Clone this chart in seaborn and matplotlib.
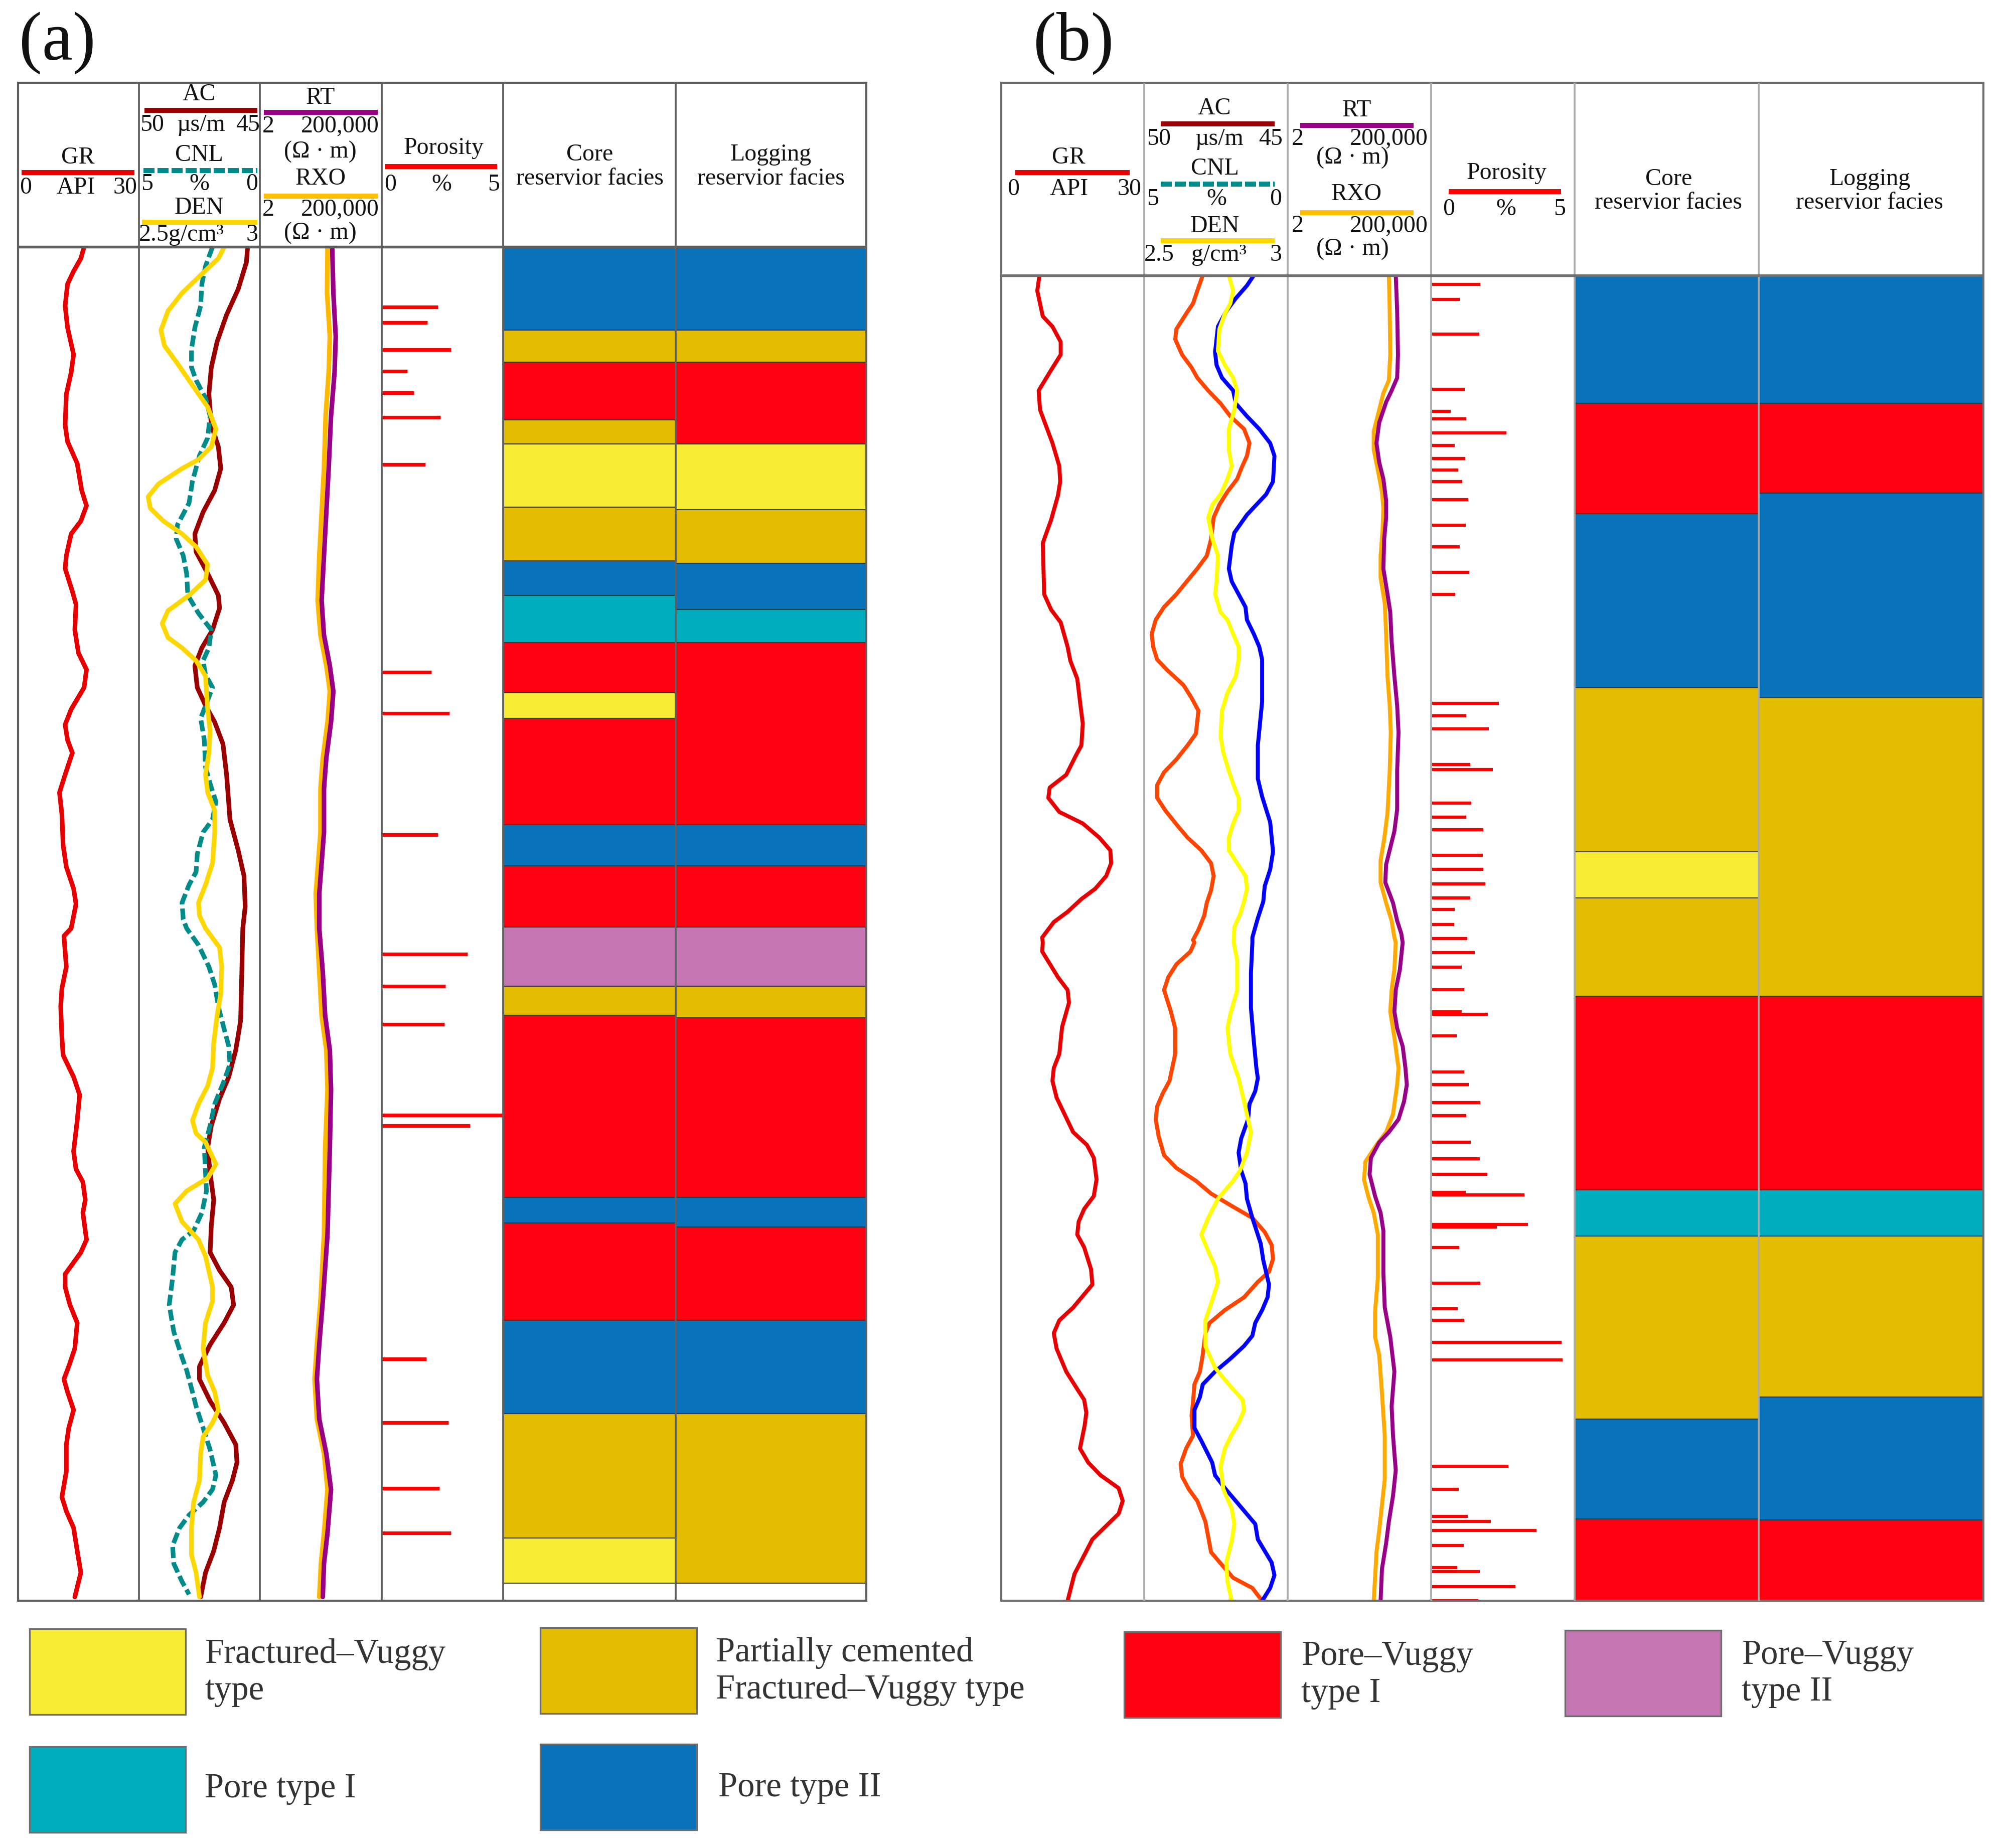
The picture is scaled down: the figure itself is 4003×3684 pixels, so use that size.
import matplotlib
matplotlib.use("Agg")
import matplotlib.pyplot as plt
from matplotlib.patches import Rectangle
import pandas as pd
import seaborn as sns

# ---------------------------------------------------------------
# Data. Depth is relative (m below the top of
# each section); curve values are in the track units of the header.
# ---------------------------------------------------------------

# ---- well (a) ----
GR_A = [(0, 16.4), (0.9, 15.6), (1.9, 13.8), (2.9, 12.3), (4.6, 11.7), (6.3, 12.3), (8.4, 13.8),
        (9.8, 13.2), (11.5, 12.0), (13.9, 11.7), (15.2, 12.3), (16.9, 14.7), (19.0, 15.8), (20.2, 17.0),
        (21.4, 15.6), (22.4, 13.2), (24.1, 12.0), (25.1, 11.7), (26.9, 13.5), (27.9, 14.4), (29.9, 14.1),
        (31.7, 15.0), (33.0, 17.0), (34.4, 16.4), (36.1, 13.2), (37.3, 11.7), (38.5, 12.3), (39.5, 13.5),
        (41.2, 11.7), (42.6, 10.3), (44.3, 10.9), (46.7, 11.2), (48.4, 12.0), (50.1, 13.8), (51.3, 14.4),
        (53.2, 13.2), (53.8, 11.4), (56.2, 12.0), (57.9, 10.9), (59.3, 10.6), (61.7, 10.9), (63.1, 11.2),
        (64.8, 13.8), (66.2, 15.3), (68.2, 14.7), (70.6, 13.8), (72.0, 14.4), (73.0, 16.1), (74.4, 16.7),
        (75.4, 16.1), (77.5, 17.0), (78.5, 15.6), (80.2, 11.7), (81.2, 11.7), (82.6, 12.9), (84.0, 14.7),
        (86.0, 14.1), (87.4, 12.6), (88.4, 11.4), (89.4, 12.3), (90.8, 13.8), (92.2, 12.6), (93.5, 12.0),
        (95.6, 12.0), (97.6, 10.9), (98.7, 12.0), (100.0, 13.8), (101.8, 14.7), (103.5, 15.6), (105.4, 14.1)]

AC_A = [(0, 45.51), (1.2, 45.56), (3.3, 45.90), (5.3, 46.38), (7.4, 46.77), (9.4, 47.01), (11.5, 47.11),
        (13.9, 47.01), (15.6, 46.72), (17.3, 46.62), (19.0, 46.87), (20.7, 47.35), (22.4, 47.69), (23.8, 47.64),
        (25.5, 47.16), (27.2, 46.72), (28.2, 46.67), (29.9, 46.96), (31.3, 47.40), (32.7, 47.69), (34.4, 47.59),
        (35.8, 47.25), (37.1, 46.87), (38.8, 46.53), (41.2, 46.38), (44.7, 46.24), (47.1, 45.90), (49.1, 45.66),
        (51.5, 45.61), (53.2, 45.71), (56.6, 45.75), (60.4, 45.80), (62.7, 46.00), (64.8, 46.29), (66.5, 46.67),
        (68.6, 47.01), (70.3, 47.16), (72.3, 47.06), (74.4, 46.91), (76.4, 47.01), (78.5, 47.06), (79.9, 46.67),
        (81.2, 46.19), (82.6, 46.09), (84.0, 46.48), (85.7, 47.06), (87.4, 47.50), (88.4, 47.50), (90.1, 47.06),
        (91.8, 46.48), (93.5, 46.00), (94.9, 45.95), (96.3, 46.14), (98.0, 46.48), (100.0, 46.67), (101.8, 46.91),
        (103.5, 47.25), (105.4, 47.45)]

CNL_A = [(0, 1.96), (1.5, 2.25), (2.9, 2.40), (4.6, 2.45), (6.3, 2.69), (8.0, 2.83), (9.4, 2.83), (10.4, 2.64),
         (11.8, 2.25), (13.2, 2.06), (14.9, 2.16), (16.3, 2.50), (18.3, 2.79), (20.0, 2.93), (21.7, 3.41),
         (22.8, 3.46), (24.1, 3.17), (25.5, 3.03), (27.2, 2.98), (28.6, 2.54), (29.9, 2.01), (31.3, 2.11),
         (32.3, 2.35), (33.4, 2.25), (34.4, 1.96), (35.4, 2.16), (36.8, 2.45), (38.5, 2.30), (40.6, 2.25),
         (41.9, 2.06), (43.3, 1.82), (44.7, 1.96), (45.7, 2.35), (47.4, 2.59), (48.8, 2.64), (49.8, 2.93),
         (51.2, 3.22), (52.5, 3.17), (53.2, 3.03), (54.5, 2.54), (56.2, 2.11), (57.6, 1.87), (59.3, 1.72),
         (60.7, 1.53), (62.4, 1.29), (63.8, 1.24), (65.1, 1.48), (66.9, 1.87), (68.6, 2.06), (70.3, 2.30),
         (72.3, 2.25), (73.7, 2.21), (75.4, 2.40), (76.8, 2.74), (77.5, 3.22), (78.5, 3.51), (80.5, 3.61),
         (82.6, 3.75), (84.7, 3.56), (86.7, 3.22), (87.7, 3.03), (89.1, 2.83), (90.5, 2.64), (92.2, 2.35),
         (93.9, 2.06), (95.9, 1.82), (97.0, 1.96), (98.0, 2.35), (99.0, 2.93), (100.0, 3.32), (101.4, 3.61),
         (102.8, 3.56), (104.2, 3.22), (105.2, 2.93)]

DEN_A = [(0, 2.852), (0.9, 2.828), (2.2, 2.755), (3.6, 2.678), (5.0, 2.620), (6.5, 2.591), (7.7, 2.605),
         (9.1, 2.659), (10.8, 2.721), (12.5, 2.784), (14.2, 2.818), (15.6, 2.799), (16.6, 2.746), (17.3, 2.678),
         (18.5, 2.581), (19.5, 2.538), (20.4, 2.547), (21.4, 2.601), (22.4, 2.678), (23.4, 2.736), (24.8, 2.784),
         (26.0, 2.775), (27.2, 2.707), (28.4, 2.620), (29.4, 2.596), (30.5, 2.620), (31.3, 2.678), (32.3, 2.736),
         (33.5, 2.775), (36.1, 2.784), (37.8, 2.794), (39.5, 2.789), (41.2, 2.775), (42.6, 2.784), (44.0, 2.813),
         (45.7, 2.813), (48.1, 2.804), (49.8, 2.775), (51.2, 2.746), (52.2, 2.750), (53.2, 2.775), (54.7, 2.833),
         (56.2, 2.842), (58.3, 2.838), (60.0, 2.823), (62.1, 2.809), (64.1, 2.804), (65.5, 2.784), (66.9, 2.746),
         (68.2, 2.721), (69.2, 2.736), (69.9, 2.775), (71.6, 2.818), (72.7, 2.784), (73.7, 2.697), (74.7, 2.649),
         (76.1, 2.678), (77.5, 2.746), (78.8, 2.775), (81.2, 2.804), (82.3, 2.804), (84.0, 2.775), (86.0, 2.765),
         (88.1, 2.784), (89.4, 2.813), (90.8, 2.828), (91.8, 2.804), (92.9, 2.765), (94.2, 2.755), (96.3, 2.750),
         (98.0, 2.726), (100.0, 2.717), (102.1, 2.717), (103.5, 2.736), (105.4, 2.750)]

RT_A = [(0, 1862), (3.6, 2078), (7.0, 2600), (9.8, 2326), (13.2, 1667), (17.3, 1334), (20.7, 1067), (24.1, 855),
        (27.6, 684), (30.3, 855), (32.7, 1489), (34.7, 2078), (37.1, 1667), (39.9, 1067), (42.3, 855), (45.7, 855),
        (48.1, 684), (50.5, 547), (53.2, 547), (56.6, 764), (60.0, 955), (62.7, 1489), (65.8, 1667), (70.3, 1489),
        (77.1, 1194), (82.3, 764), (85.7, 547), (88.4, 437), (91.5, 547), (94.2, 1067), (97.0, 1667),
        (100.4, 1194), (102.8, 855), (105.4, 764)]

RXO_A = [(0, 1194), (3.6, 1142), (7.0, 1489), (9.8, 1334), (13.2, 998), (17.3, 855), (20.7, 684), (24.1, 547),
         (27.6, 469), (30.3, 612), (32.7, 1067), (34.7, 1489), (37.1, 1194), (39.9, 764), (42.3, 612), (45.7, 612),
         (48.1, 490), (50.5, 392), (53.2, 437), (56.6, 547), (60.0, 684), (62.7, 1067), (65.8, 1194), (70.3, 955),
         (77.1, 855), (82.3, 612), (85.7, 437), (88.4, 351), (91.5, 437), (94.2, 855), (97.0, 1194),
         (100.4, 855), (102.8, 640), (105.4, 547)]

POR_A = [(4.7, 2.32), (5.9, 1.89), (8.0, 2.84), (9.7, 1.05), (11.4, 1.32), (13.3, 2.42), (17.0, 1.79),
         (33.2, 2.05), (36.4, 2.79), (45.9, 2.32), (55.2, 3.53), (57.7, 2.63), (60.7, 2.58), (67.8, 5.0),
         (68.6, 3.63), (86.8, 1.84), (91.8, 2.74), (96.9, 2.37), (100.4, 2.84)]

CORE_A = [(0, 6.5, "P2"), (6.5, 9.0, "PCFV"), (9.0, 13.5, "PV1"), (13.5, 15.4, "PCFV"), (15.4, 20.3, "FV"),
          (20.3, 24.5, "PCFV"), (24.5, 27.2, "P2"), (27.2, 30.9, "P1"), (30.9, 34.8, "PV1"), (34.8, 36.8, "FV"),
          (36.8, 45.1, "PV1"), (45.1, 48.3, "P2"), (48.3, 53.1, "PV1"), (53.1, 57.7, "PV2"), (57.7, 60.0, "PCFV"),
          (60.0, 74.2, "PV1"), (74.2, 76.2, "P2"), (76.2, 83.8, "PV1"), (83.8, 91.1, "P2"), (91.1, 100.8, "PCFV"),
          (100.8, 104.3, "FV")]

LOG_A = [(0, 6.5, "P2"), (6.5, 9.0, "PCFV"), (9.0, 15.4, "PV1"), (15.4, 20.5, "FV"), (20.5, 24.7, "PCFV"),
         (24.7, 28.3, "P2"), (28.3, 30.9, "P1"), (30.9, 45.1, "PV1"), (45.1, 48.3, "P2"), (48.3, 53.1, "PV1"),
         (53.1, 57.7, "PV2"), (57.7, 60.2, "PCFV"), (60.2, 74.2, "PV1"), (74.2, 76.5, "P2"), (76.5, 83.8, "PV1"),
         (83.8, 91.1, "P2"), (91.1, 104.3, "PCFV")]

# ---- well (b) ----
GR_B = [(0, 7.99), (1.2, 7.53), (3.2, 8.69), (4.0, 10.72), (5.2, 12.45), (6.2, 12.45), (7.4, 10.43), (9.0, 7.82),
        (10.5, 8.11), (13.1, 10.72), (14.9, 12.16), (16.1, 12.34), (17.2, 11.87), (19.1, 10.43), (20.9, 8.69),
        (24.9, 8.98), (26.1, 10.43), (27.1, 12.45), (29.0, 13.90), (30.1, 14.48), (31.5, 15.93), (33.3, 16.51),
        (35.0, 17.09), (36.7, 16.80), (37.5, 15.64), (39.0, 13.61), (40.0, 10.14), (40.8, 9.85), (41.9, 12.16),
        (42.8, 17.09), (43.9, 20.56), (44.9, 22.88), (45.9, 23.05), (46.9, 22.01), (47.9, 19.69), (48.7, 16.80),
        (49.7, 13.90), (50.5, 11.00), (51.7, 8.57), (52.1, 8.69), (52.8, 8.57), (54.8, 11.87), (55.8, 13.90),
        (56.8, 14.19), (58.7, 12.74), (60.8, 12.16), (61.9, 11.00), (62.9, 10.72), (64.2, 11.58), (66.9, 15.06),
        (67.9, 17.96), (68.9, 19.40), (70.6, 19.98), (71.9, 19.40), (72.9, 17.38), (73.9, 16.22), (74.9, 15.93),
        (75.9, 17.38), (77.6, 18.82), (78.8, 19.11), (80.6, 15.06), (81.6, 12.16), (82.6, 11.00), (83.8, 11.58),
        (85.6, 13.61), (86.8, 15.64), (87.8, 17.38), (88.8, 17.84), (89.8, 17.49), (91.6, 16.51), (92.7, 18.24),
        (93.7, 20.85), (94.7, 24.62), (95.7, 25.48), (96.7, 24.62), (98.7, 19.11), (101.4, 15.35), (103.5, 13.90)]

AC_B = [(0, 47.96), (1.2, 48.15), (2.2, 48.30), (3.0, 48.54), (4.2, 48.88), (5.0, 48.92), (6.2, 48.68),
        (7.2, 48.35), (8.0, 48.15), (9.0, 47.77), (10.0, 47.34), (11.0, 47.00), (12.0, 46.52), (13.1, 46.33),
        (14.1, 46.42), (15.1, 46.62), (15.9, 46.76), (16.9, 47.10), (17.9, 47.38), (18.9, 47.58), (20.6, 47.67),
        (21.9, 47.82), (22.9, 48.15), (24.1, 48.59), (24.9, 48.88), (25.9, 49.31), (26.9, 49.60), (28.0, 49.74),
        (29.0, 49.69), (30.0, 49.55), (30.8, 49.21), (32.0, 48.63), (33.0, 48.35), (34.0, 48.11), (35.8, 48.20),
        (36.7, 48.49), (37.8, 48.88), (38.8, 49.31), (39.8, 49.55), (40.8, 49.55), (41.8, 49.26), (43.0, 48.83),
        (43.9, 48.49), (44.9, 48.01), (45.9, 47.67), (46.9, 47.58), (48.0, 47.67), (49.0, 47.82), (50.0, 47.91),
        (51.1, 48.11), (51.9, 48.30), (52.1, 48.25), (52.8, 48.39), (53.8, 48.88), (54.8, 49.16), (55.8, 49.31),
        (57.5, 49.07), (58.8, 48.92), (60.8, 48.92), (62.9, 49.12), (63.9, 49.36), (64.9, 49.55), (65.9, 49.60),
        (67.2, 49.50), (68.7, 49.31), (69.7, 48.88), (70.7, 48.20), (71.7, 47.67), (72.6, 47.00), (73.6, 46.23),
        (74.7, 45.80), (75.7, 45.56), (76.8, 45.51), (77.8, 45.65), (78.6, 46.04), (79.8, 46.52), (80.8, 47.19),
        (81.8, 47.72), (82.6, 47.87), (84.3, 47.96), (85.6, 48.06), (86.6, 48.25), (88.0, 48.30), (89.0, 48.35),
        (90.6, 48.30), (91.6, 48.54), (92.8, 48.73), (93.8, 48.68), (94.8, 48.44), (95.7, 48.15), (97.3, 47.87),
        (99.7, 47.67), (100.7, 47.29), (101.7, 46.90), (102.5, 46.23), (103.5, 45.89)]

DEN_B = [(0, 2.795), (1.2, 2.810), (2.2, 2.800), (3.0, 2.781), (4.2, 2.762), (5.9, 2.757), (7.0, 2.781),
         (8.0, 2.810), (9.0, 2.824), (10.5, 2.814), (12.0, 2.795), (13.6, 2.795), (14.9, 2.805), (15.9, 2.790),
         (17.1, 2.766), (17.9, 2.738), (18.9, 2.723), (20.6, 2.738), (21.9, 2.757), (23.9, 2.752), (24.9, 2.747),
         (26.3, 2.766), (26.9, 2.790), (28.0, 2.810), (29.0, 2.829), (30.0, 2.829), (31.3, 2.819), (32.6, 2.790),
         (34.0, 2.771), (36.0, 2.766), (37.3, 2.776), (38.7, 2.795), (39.7, 2.810), (40.8, 2.829), (41.8, 2.829),
         (42.8, 2.810), (43.9, 2.795), (44.9, 2.795), (45.9, 2.824), (46.9, 2.853), (47.9, 2.858), (48.9, 2.848),
         (49.9, 2.834), (50.9, 2.814), (52.1, 2.812), (53.5, 2.824), (55.8, 2.824), (57.7, 2.800), (58.8, 2.790),
         (60.8, 2.800), (62.7, 2.829), (64.5, 2.848), (66.9, 2.872), (68.5, 2.858), (69.9, 2.834), (70.7, 2.810),
         (72.1, 2.757), (73.6, 2.723), (74.9, 2.699), (76.2, 2.723), (77.4, 2.747), (78.6, 2.757), (80.3, 2.733),
         (81.6, 2.713), (83.6, 2.713), (85.3, 2.747), (86.6, 2.795), (87.8, 2.843), (88.6, 2.848), (89.6, 2.829),
         (90.5, 2.805), (91.6, 2.781), (93.0, 2.766), (94.8, 2.776), (96.3, 2.805), (97.5, 2.814), (98.8, 2.805),
         (100.5, 2.786), (102.0, 2.790), (103.5, 2.805)]

CNL_B = [(0, 1.18), (0.8, 1.42), (1.8, 1.81), (2.8, 2.14), (4.0, 2.43), (6.0, 2.53), (7.0, 2.48), (8.0, 2.29),
         (9.0, 1.90), (10.0, 1.81), (11.0, 1.42), (12.0, 0.99), (13.1, 0.61), (14.1, 0.46), (16.1, 0.51),
         (17.1, 0.75), (18.7, 1.42), (20.1, 1.86), (21.1, 1.95), (22.9, 2.05), (23.9, 1.95), (24.9, 1.71),
         (25.9, 1.47), (26.9, 1.42), (28.0, 1.18), (29.0, 0.99), (30.0, 0.89), (33.3, 0.89), (36.7, 1.04),
         (39.3, 1.04), (40.7, 0.89), (42.7, 0.61), (45.0, 0.51), (46.4, 0.61), (47.7, 0.80), (48.9, 0.85),
         (50.2, 1.04), (51.7, 1.23), (52.1, 1.23), (54.5, 1.28), (57.2, 1.28), (59.8, 1.18), (61.9, 1.09),
         (62.7, 1.04), (63.7, 1.13), (64.7, 1.33), (65.9, 1.38), (67.4, 1.62), (68.5, 1.71), (69.9, 1.62),
         (70.9, 1.47), (72.1, 1.42), (73.6, 1.23), (75.6, 0.94), (76.9, 0.85), (78.8, 0.65), (79.8, 0.70),
         (80.8, 0.89), (81.8, 1.13), (82.8, 1.23), (83.6, 1.52), (84.6, 2.00), (85.6, 2.53), (86.6, 2.96),
         (87.6, 3.06), (88.6, 3.25), (90.0, 3.25), (91.0, 3.01), (92.7, 2.63), (93.7, 2.53), (94.7, 2.19),
         (96.2, 1.62), (97.5, 1.13), (98.7, 1.04), (100.5, 0.56), (101.5, 0.46), (102.5, 0.61), (103.5, 0.89)]

RT_B = [(0, 11750), (2.8, 13130), (6.2, 14030), (8.0, 13130), (9.0, 8430), (9.9, 5420), (11.5, 3110),
        (13.1, 2495), (14.6, 3110), (15.9, 4345), (17.6, 5420), (18.9, 5420), (20.6, 4636), (22.9, 4345),
        (24.9, 6050), (26.3, 7550), (28.6, 8430), (31.3, 10520), (33.6, 13130), (35.7, 14660), (38.7, 13130),
        (41.7, 13130), (43.4, 10520), (44.7, 7550), (46.0, 5420), (47.4, 5070), (49.0, 9420), (50.4, 13130),
        (51.4, 18320), (52.1, 20460), (54.2, 16370), (55.8, 11750), (57.5, 10520), (58.8, 13130), (60.2, 20460),
        (61.9, 25530), (63.2, 28510), (64.5, 22840), (65.9, 14660), (66.9, 6760), (67.7, 3110), (68.9, 1603),
        (70.2, 1435), (71.9, 2234), (73.2, 3475), (74.6, 4345), (77.9, 4345), (80.6, 4853), (82.9, 7550),
        (85.6, 10520), (88.3, 8430), (90.6, 9420), (93.3, 11750), (95.3, 9420), (97.3, 6760), (99.0, 5420),
        (101.0, 3882), (103.5, 3475)]

RXO_B = [(0, 6760), (2.8, 7220), (6.2, 7550), (8.2, 6760), (9.2, 4345), (10.5, 3110), (12.2, 2000),
         (13.6, 2000), (15.2, 2786), (16.9, 3882), (18.2, 4345), (19.9, 4064), (21.9, 3475), (23.6, 3475),
         (25.6, 4853), (28.0, 5420), (31.3, 6050), (33.6, 7220), (35.7, 7890), (38.7, 7220), (42.0, 6050),
         (44.0, 4636), (45.7, 3475), (47.4, 3475), (49.0, 5420), (50.4, 8430), (51.7, 10520), (52.1, 11750),
         (54.2, 10520), (55.8, 8430), (57.5, 7550), (59.5, 10520), (61.9, 14660), (63.2, 13130), (65.5, 9420),
         (66.9, 5420), (67.9, 2495), (69.2, 1030), (70.6, 921), (71.9, 1285), (73.2, 2000), (74.9, 2786),
         (78.3, 2786), (80.9, 2234), (82.9, 2234), (84.3, 3110), (87.3, 3882), (90.6, 4853), (94.0, 4853),
         (96.0, 3882), (98.0, 3110), (99.7, 2495), (101.7, 2234), (103.5, 2000)]

POR_B = [(0.7, 1.71), (1.9, 0.99), (4.6, 1.68), (8.9, 1.18), (10.6, 0.69), (11.2, 1.23), (12.3, 2.63),
         (13.3, 0.82), (14.3, 1.19), (15.2, 0.94), (16.1, 1.08), (17.5, 1.30), (19.5, 1.21), (21.2, 1.00),
         (23.2, 1.33), (24.9, 0.84), (33.4, 2.36), (34.4, 1.23), (35.4, 2.02), (38.2, 1.37), (38.6, 2.15),
         (41.2, 1.40), (42.3, 1.22), (43.3, 1.82), (45.3, 1.80), (46.4, 1.82), (47.5, 1.89), (48.6, 1.37),
         (49.5, 0.82), (50.7, 0.81), (51.8, 1.26), (52.9, 1.53), (54.0, 1.06), (55.8, 1.16), (57.5, 1.07),
         (57.7, 1.97), (59.4, 0.90), (62.2, 1.16), (63.2, 1.31), (64.6, 1.71), (65.6, 1.23), (67.7, 1.39),
         (69.0, 1.69), (70.2, 1.96), (71.6, 1.21), (71.8, 3.25), (74.1, 3.37), (74.3, 2.29), (75.9, 0.98),
         (78.7, 1.72), (80.7, 0.92), (81.6, 1.16), (83.3, 4.55), (84.7, 4.59), (93.0, 2.70), (94.8, 0.96),
         (96.9, 1.27), (97.3, 2.08), (98.0, 3.68), (99.2, 1.14), (100.9, 0.91), (101.2, 1.69), (102.4, 2.94),
         (103.5, 1.64)]

CORE_B = [(0, 10.0, "P2"), (10.0, 18.6, "PV1"), (18.6, 32.2, "P2"), (32.2, 45.0, "PCFV"), (45.0, 48.6, "FV"),
          (48.6, 56.3, "PCFV"), (56.3, 71.4, "PV1"), (71.4, 75.0, "P1"), (75.0, 89.3, "PCFV"),
          (89.3, 97.1, "P2"), (97.1, 103.5, "PV1")]

LOG_B = [(0, 10.0, "P2"), (10.0, 17.0, "PV1"), (17.0, 33.0, "P2"), (33.0, 56.3, "PCFV"), (56.3, 71.4, "PV1"),
         (71.4, 75.0, "P1"), (75.0, 87.6, "PCFV"), (87.6, 97.2, "P2"), (97.2, 103.5, "PV1")]

FACIES_CODES = ["FV", "PCFV", "PV1", "PV2", "P1", "P2"]
FACIES_NAMES = ["Fractured\u2013Vuggy\ntype", "Partially cemented\nFractured\u2013Vuggy type",
                "Pore\u2013Vuggy\ntype I", "Pore\u2013Vuggy\ntype II", "Pore type I", "Pore type II"]
FACIES_COLORS = dict(zip(FACIES_CODES, ["#F8EC34", "#E2BD00", "#FE0010", "#C477B2", "#00ADBE", "#0872BB"]))

# ---------------------------------------------------------------
sns.set_theme(style="white")
plt.rcParams["font.family"] = ["Liberation Serif", "DejaVu Serif"]

W, H = 1568.0, 1443.0  # layout grid
fig = plt.figure(figsize=(4003 / 300, 3684 / 300), dpi=300)


def box(x0, y0, x1, y1):
    return [x0 / W, 1 - y1 / H, (x1 - x0) / W, (y1 - y0) / H]


def track(x0, x1, y0, y1, dmax, xlim, log=False):
    ax = fig.add_axes(box(x0, y0, x1, y1))
    ax.patch.set_alpha(0)
    if log:
        ax.set_xscale("log")
    ax._lims = (xlim, dmax)
    return ax


def finish(ax):
    xlim, dmax = ax._lims
    ax.set_xlim(*xlim)
    ax.set_ylim(dmax, 0)
    ax.set_xlabel("")
    ax.set_ylabel("")
    ax.set_axis_off()


def curve(ax, pairs, color, lw, ls="-"):
    df = pd.DataFrame(pairs, columns=["depth", "value"])
    sns.lineplot(data=df, x="value", y="depth", ax=ax, color=color, lw=lw, ls=ls,
                 sort=False, estimator=None)
    finish(ax)


def facies(ax, intervals):
    for top, bot, code in intervals:
        ax.barh(top, 1, height=bot - top, left=0, align="edge", color=FACIES_COLORS[code],
                edgecolor="#3a3a3a", linewidth=0.5)
    finish(ax)


def porosity(ax, pairs, lw):
    df = pd.DataFrame(pairs, columns=["depth", "value"])
    ax.hlines(df["depth"], 0, df["value"], colors="#FF0000", lw=lw)
    finish(ax)


def log_panel(cols, top, hbot, bot, dmax, data, lw, colors, ls_cnl):
    gr, ac, cnl, den, rt, rxo, por, core, logf = data
    curve(track(cols[0], cols[1], hbot, bot, dmax, (0, 30)), gr, "#E80000", lw)
    curve(track(cols[1], cols[2], hbot, bot, dmax, (50, 45)), ac, colors["ac"], lw)
    curve(track(cols[1], cols[2], hbot, bot, dmax, (5, 0)), cnl, colors["cnl"], lw, ls_cnl)
    curve(track(cols[1], cols[2], hbot, bot, dmax, (2.5, 3)), den, colors["den"], lw)
    curve(track(cols[2], cols[3], hbot, bot, dmax, (2, 200000), log=True), rxo, colors["rxo"], lw)
    curve(track(cols[2], cols[3], hbot, bot, dmax, (2, 200000), log=True), rt, colors["rt"], lw)
    porosity(track(cols[3], cols[4], hbot, bot, dmax, (0, 5)), por, lw * 0.8)
    facies(track(cols[4], cols[5], hbot, bot, dmax, (0, 1)), core)
    facies(track(cols[5], cols[6], hbot, bot, dmax, (0, 1)), logf)


COLS_A = [14, 108.5, 203, 298, 393, 527.6, 676.5]
COLS_B = [782, 893.5, 1005.5, 1117.5, 1229.5, 1373.5, 1548.8]

log_panel(COLS_A, 64.6, 192.8, 1250, 105.7,
          (GR_A, AC_A, CNL_A, DEN_A, RT_A, RXO_A, POR_A, CORE_A, LOG_A), 2.2,
          {"ac": "#9A0000", "cnl": "#008B8B", "den": "#FFD700", "rt": "#990088", "rxo": "#FFB800"},
          (0, (2.4, 0.9)))
log_panel(COLS_B, 64.6, 215, 1250, 103.5,
          (GR_B, AC_B, CNL_B, DEN_B, RT_B, RXO_B, POR_B, CORE_B, LOG_B), 1.9,
          {"ac": "#FF4500", "cnl": "#0000FF", "den": "#FFFF00", "rt": "#990088", "rxo": "#FFAA00"},
          "-")

# ---- frames, headers, legend (layout layer) ----
lay = fig.add_axes([0, 0, 1, 1], zorder=10)
lay.set_xlim(0, W)
lay.set_ylim(H, 0)
lay.set_axis_off()


def frame(cols, top, hbot, bot, outer, inner, lw):
    lay.add_patch(Rectangle((cols[0], top), cols[-1] - cols[0], bot - top, fill=False, ec=outer, lw=lw))
    for x in cols[1:-1]:
        lay.plot([x, x], [top, bot], color=inner, lw=lw * 0.9, solid_capstyle="butt")
    lay.plot([cols[0], cols[-1]], [hbot, hbot], color=outer, lw=lw * 1.3, solid_capstyle="butt")


frame(COLS_A, 64.6, 192.8, 1250, "#5f5f5f", "#5f5f5f", 1.0)
frame(COLS_B, 64.6, 215, 1250, "#6e6e6e", "#ababab", 1.0)

HS = 11.5


def txt(x, y, s, ha="center", size=HS, **kw):
    lay.text(x, y, s, ha=ha, va="center", fontsize=size, color="#111111", **kw)


def key(x0, x1, y, color, ls="-"):
    lay.plot([x0, x1], [y, y], color=color, lw=2.4, ls=ls, solid_capstyle="butt", dash_capstyle="butt")


def scale3(xl, xc, xr, y, a, b, c):
    txt(xl, y, a, ha="left")
    txt(xc, y, b)
    txt(xr, y, c, ha="right")


# header (a)
txt(61, 123, "GR")
key(17, 105, 134.8, "#E80000")
scale3(15.5, 59, 107, 146.5, "0", "API", "30")
txt(155.5, 73.5, "AC")
key(112.8, 201, 86.2, "#9A0000")
scale3(109.5, 157, 203, 97.5, "50", "\u00b5s/m", "45")
txt(155.5, 121, "CNL")
key(112, 201, 133.2, "#008B8B", (0, (2.2, 0.6)))
scale3(110, 155.5, 201.5, 143.6, "5", "%", "0")
txt(155.5, 162, "DEN")
key(111, 201, 173.4, "#FFD700")
scale3(108.5, 153, 201.5, 183.4, "2.5", "g/cm\u00b3", "3")
txt(250.3, 76.5, "RT")
key(206, 294.8, 87.7, "#990088")
scale3(205, 250, 296, 98.6, "2", "", "200,000")
txt(250, 118.8, "(\u03a9 \u00b7 m)")
txt(250.3, 139.5, "RXO")
key(206, 294.8, 153, "#FFBF00")
scale3(205, 250, 296, 163.7, "2", "", "200,000")
txt(250, 182, "(\u03a9 \u00b7 m)")
txt(346.5, 115.5, "Porosity")
key(301, 388, 129.9, "#FF0000")
scale3(300, 345, 390, 144.3, "0", "%", "5")
txt(460.5, 130, "Core\nreservior facies", linespacing=1.1)
txt(602, 130, "Logging\nreservior facies", linespacing=1.1)

# header (b)
txt(834.6, 123, "GR")
key(792.9, 882.2, 134.8, "#E80000")
scale3(786.5, 834.6, 891.5, 147.5, "0", "API", "30")
txt(948.2, 84.5, "AC")
key(906.4, 995.2, 96.9, "#9A0000")
scale3(895.5, 952, 1001.5, 108.4, "50", "\u00b5s/m", "45")
txt(948.5, 131.5, "CNL")
key(906.4, 995.2, 143.9, "#008B8B", (0, (2.2, 0.6)))
scale3(895.5, 950, 1001, 155.4, "5", "%", "0")
txt(948.5, 176.5, "DEN")
key(906.4, 995.2, 188, "#FFD700")
scale3(893.5, 952, 1001, 199.1, "2.5", "g/cm\u00b3", "3")
txt(1059.4, 86.3, "RT")
key(1015.3, 1103.9, 97.9, "#990088")
scale3(1008.5, 1060, 1115, 108.4, "2", "", "200,000")
txt(1056, 123.4, "(\u03a9 \u00b7 m)")
txt(1059.4, 151.6, "RXO")
key(1015.3, 1103.9, 166.2, "#FFBF00")
scale3(1008.5, 1060, 1115, 176.3, "2", "", "200,000")
txt(1056, 194.5, "(\u03a9 \u00b7 m)")
txt(1176.7, 135.3, "Porosity")
key(1131.2, 1218.9, 149.5, "#FF0000")
scale3(1126.5, 1176, 1222.5, 163.2, "0", "%", "5")
txt(1303, 149, "Core\nreservior facies", linespacing=1.1)
txt(1460, 149, "Logging\nreservior facies", linespacing=1.1)

# panel labels
txt(15, 34, "(a)", ha="left", size=33)
txt(807, 34, "(b)", ha="left", size=33)

# legend
LEG_BOX = [(23, 1272), (422, 1271), (878, 1274), (1222, 1273), (23, 1364), (422, 1362)]
LEG_TXT = [(160, 1306), (559, 1305), (1016, 1308), (1360, 1307), (160, 1397), (561, 1396)]
for code, name, (bx, by), (tx, ty) in zip(FACIES_CODES, FACIES_NAMES, LEG_BOX, LEG_TXT):
    lay.add_patch(Rectangle((bx, by), 122, 67, fc=FACIES_COLORS[code], ec="#6d6d6d", lw=0.8))
    lay.text(tx, ty, name, ha="left", va="center", fontsize=16.5, color="#333333", linespacing=1.2)

fig.savefig("out.png", dpi=300)
